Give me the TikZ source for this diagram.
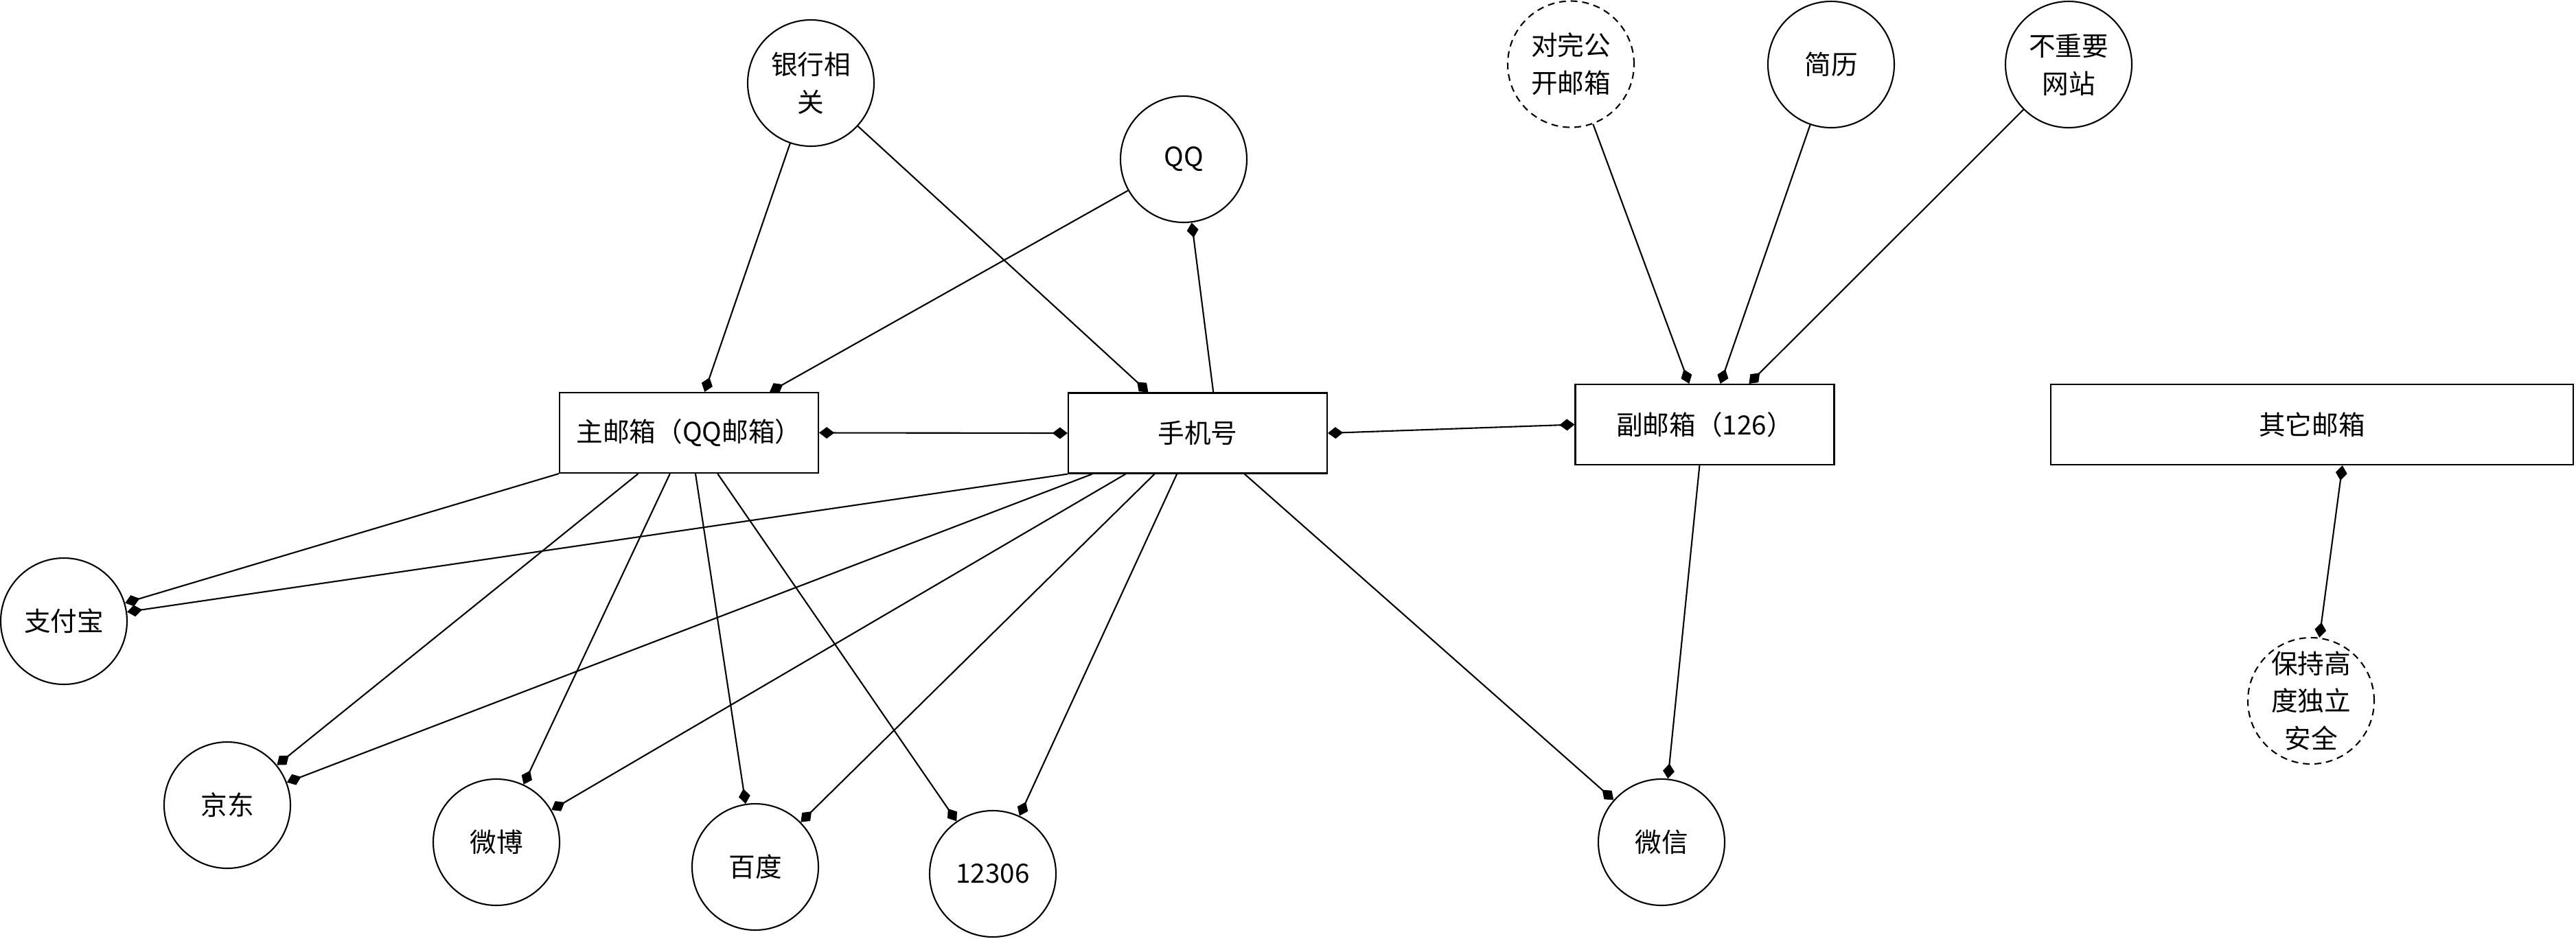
\documentclass[tikz,border=0pt]{standalone}
\usepackage{fontspec}
\setmainfont{Noto Sans CJK SC}
\usetikzlibrary{shapes.geometric, arrows.meta, positioning, calc}

\tikzset{
	box/.style={draw, line width=0.6pt, minimum width=3.77cm, minimum height=1.17cm, inner sep=0pt},
	bubble/.style={draw, circle, line width=0.6pt, minimum size=1.84cm, inner sep=0pt, align=center},
	dashbubble/.style={bubble, dash pattern=on 2.8pt off 2pt},
	link/.style={line width=0.6pt, -{Diamond[length=6.3pt, width=4.8pt]}},
	twolink/.style={line width=0.6pt, {Diamond[length=6.3pt, width=4.8pt]}-{Diamond[length=6.3pt, width=4.8pt]}}
}

\begin{document}
\begin{tikzpicture}[font=\fontsize{11pt}{15.6pt}\selectfont]
		\useasboundingbox (0,0) rectangle (37.52,-13.67);

		% Mail boxes and phone
		\node[box] (main) at (10.035,-6.305) {主邮箱（QQ邮箱）};
		\node[box] (phone) at (17.445,-6.31) {手机号};
		\node[box] (sub) at (24.83,-6.185) {副邮箱（126）};
		\node[box, minimum width=7.61cm] (other) at (33.675,-6.185) {其它邮箱};

		% Top row
		\node[bubble] (bank) at (11.81,-1.21) {银行相\\关};
		\node[bubble] (qq) at (17.24,-2.32) {QQ};
		\node[dashbubble] (public) at (22.88,-0.935) {对完公\\开邮箱};
		\node[bubble] (resume) at (26.67,-0.94) {简历};
		\node[bubble] (minor) at (30.13,-0.94) {不重要\\网站};

		% Bottom row
		\node[bubble] (alipay) at (0.93,-9.05) {支付宝};
		\node[bubble] (jd) at (3.31,-11.73) {京东};
		\node[bubble] (weibo) at (7.23,-12.27) {微博};
		\node[bubble] (baidu) at (11.00,-12.63) {百度};
		\node[bubble] (rail) at (14.46,-12.73) {12306};
		\node[bubble] (wechat) at (24.20,-12.27) {微信};
		\node[dashbubble] (safe) at (33.66,-10.21) {};
		\node[align=center] (safetext) at (safe.center) {保持高\\度独立\\安全};

		% Top links
		\draw[link] (bank) -- ($(main.north west)!0.56!(main.north east)$);
		\draw[link] (qq) -- ($(main.north west)!0.81!(main.north east)$);
		\draw[link] (bank) -- ($(phone.north west)!0.31!(phone.north east)$);
		\draw[link] ($(phone.north west)!0.56!(phone.north east)$) -- (qq);
		\draw[link] (public) -- ($(sub.north west)!0.44!(sub.north east)$);
		\draw[link] (resume) -- ($(sub.north west)!0.56!(sub.north east)$);
		\draw[link] (minor) -- ($(sub.north west)!0.67!(sub.north east)$);

		% Side links
		\draw[twolink] (main.east) -- (phone.west);
		\draw[twolink] (phone.east) -- (sub.west);
		\draw[twolink] ($(other.south west)!0.558!(other.south east)$) -- (safe);

		% Main mail links
		\draw[link] (main.south west) -- (alipay);
		\draw[link] ($(main.south west)!0.305!(main.south east)$) -- (jd);
		\draw[link] ($(main.south west)!0.427!(main.south east)$) -- (weibo);
		\draw[link] ($(main.south west)!0.525!(main.south east)$) -- (baidu);
		\draw[link] ($(main.south west)!0.61!(main.south east)$) -- (rail);

		% Phone links
		\draw[link] (phone.south west) -- (alipay);
		\draw[link] ($(phone.south west)!0.095!(phone.south east)$) -- (jd);
		\draw[link] ($(phone.south west)!0.223!(phone.south east)$) -- (weibo);
		\draw[link] ($(phone.south west)!0.334!(phone.south east)$) -- (baidu);
		\draw[link] ($(phone.south west)!0.42!(phone.south east)$) -- (rail);
		\draw[link] ($(phone.south west)!0.68!(phone.south east)$) -- (wechat);

		% Sub mail to WeChat
		\draw[link] ($(sub.south west)!0.48!(sub.south east)$) -- (wechat);
	  \end{tikzpicture}
\end{document}
